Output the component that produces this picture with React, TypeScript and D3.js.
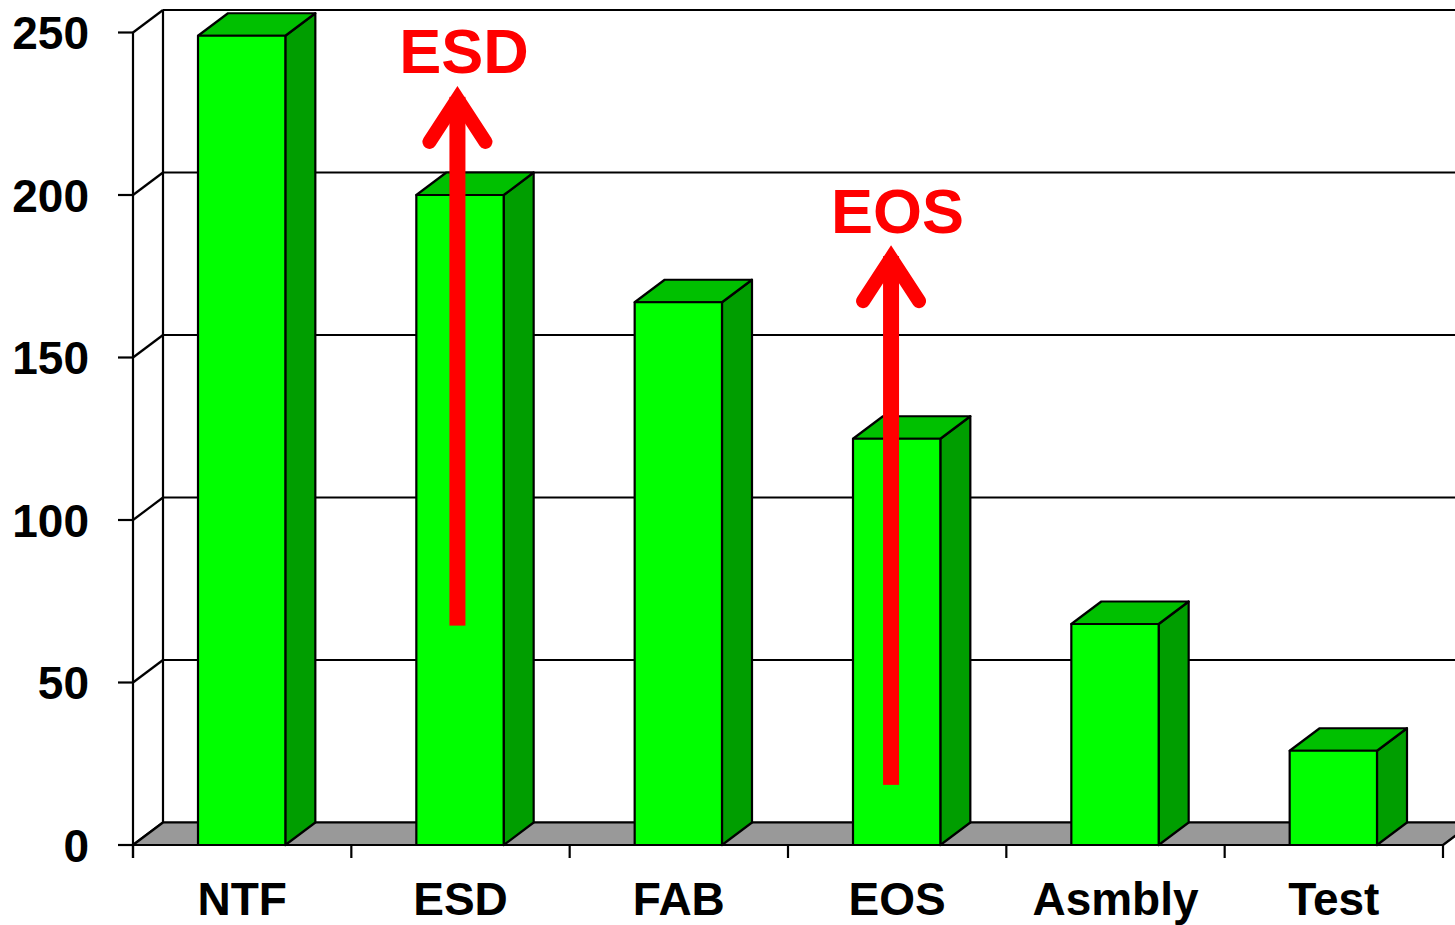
import React from "react";
import * as d3 from "d3";

// Failure counts by category
const categories = ["NTF", "ESD", "FAB", "EOS", "Asmbly", "Test"];
const counts = [249, 200, 167, 125, 68, 29];
const yTicks = [0, 50, 100, 150, 200, 250];

// Red arrow annotations (value range of each arrow along the y axis)
const arrowLabels = ["ESD", "EOS"];
const arrowCats = ["ESD", "EOS"];
const arrowFrom = [67.5, 18.5];
const arrowTo = [234.5, 185.5];

const W = 1455;
const H = 925;
const left = 133;
const right = 1443;
const bottom = 845;
const top = 32.5;
const DX = 30;
const DY = -22.5;
const FONT = "'Liberation Sans', Arial, Helvetica, sans-serif";

export default function App() {
  const x = d3.scaleBand<string>().domain(categories).range([left, right]).padding(0);
  const y = d3.scaleLinear().domain([0, 250]).range([bottom, top]);
  const bw = x.bandwidth();
  const barW = bw * 0.4;
  const arrowPos = [0.486, 0.472]; // fraction across the band

  const line = (pts: [number, number][]) => d3.line()(pts) + "Z";

  return (
    <div style={{ position: "fixed", left: 0, top: 0, width: W, height: H, background: "#fff" }}>
      <svg width={W} height={H} style={{ display: "block" }}>
        {/* left wall */}
        <path
          d={line([
            [left, y(250)],
            [left + DX, y(250) + DY],
            [left + DX, y(0) + DY],
            [left, y(0)],
          ])}
          fill="#fff"
          stroke="none"
        />
        {/* back wall grid lines */}
        {yTicks.map((t) => (
          <g key={"g" + t}>
            <line x1={left + DX} x2={W + 40} y1={y(t) + DY} y2={y(t) + DY} stroke="#000" strokeWidth={2.2} />
            <line x1={left} x2={left + DX} y1={y(t)} y2={y(t) + DY} stroke="#000" strokeWidth={2.2} />
          </g>
        ))}
        <line x1={left + DX} x2={left + DX} y1={y(250) + DY} y2={y(0) + DY} stroke="#000" strokeWidth={2.2} />
        {/* floor */}
        <path
          d={line([
            [left, y(0)],
            [left + DX, y(0) + DY],
            [right + DX, y(0) + DY],
            [right, y(0)],
          ])}
          fill="#999999"
          stroke="#000"
          strokeWidth={2.2}
          strokeLinejoin="round"
        />
        {/* y axis */}
        <line x1={left} x2={left} y1={y(250)} y2={bottom + 13} stroke="#000" strokeWidth={2.2} />
        {yTicks.map((t) => (
          <g key={"t" + t}>
            <line x1={left - 15} x2={left} y1={y(t)} y2={y(t)} stroke="#000" strokeWidth={2.2} />
            <text
              x={89}
              y={y(t)}
              dy="0.36em"
              textAnchor="end"
              fontFamily={FONT}
              fontWeight="bold"
              fontSize={46}
              fill="#000"
            >
              {t}
            </text>
          </g>
        ))}
        {/* x axis ticks */}
        {categories.concat([""]).map((c, i) => {
          const xx = left + i * bw;
          return <line key={"xt" + i} x1={xx} x2={xx} y1={bottom} y2={bottom + 13} stroke="#000" strokeWidth={2.2} />;
        })}
        {/* bars */}
        {categories.map((c, i) => {
          const x0 = (x(c) as number) + bw * 0.3 - 0.5;
          const x1 = x0 + barW;
          const yt = y(counts[i]);
          const yb = y(0);
          return (
            <g key={c} stroke="#000" strokeWidth={2.2} strokeLinejoin="round">
              <path
                d={line([
                  [x1, yt],
                  [x1 + DX, yt + DY],
                  [x1 + DX, yb + DY],
                  [x1, yb],
                ])}
                fill="#009E00"
              />
              <path
                d={line([
                  [x0, yt],
                  [x0 + DX, yt + DY],
                  [x1 + DX, yt + DY],
                  [x1, yt],
                ])}
                fill="#00C000"
              />
              <rect x={x0} y={yt} width={barW} height={yb - yt} fill="#00FF00" />
            </g>
          );
        })}
        {/* category labels */}
        {categories.map((c) => (
          <text
            key={"l" + c}
            x={(x(c) as number) + bw / 2}
            y={915}
            textAnchor="middle"
            fontFamily={FONT}
            fontWeight="bold"
            fontSize={46}
            fill="#000"
          >
            {c}
          </text>
        ))}
        {/* arrows */}
        {arrowCats.map((c, i) => {
          const ax = (x(c) as number) + bw * arrowPos[i];
          const y0 = y(arrowFrom[i]);
          const y1 = y(arrowTo[i]);
          return (
            <g key={"a" + c}>
              <rect x={ax - 8} y={y1 + 14} width={16} height={y0 - y1 - 14} fill="#FF0000" />
              <path
                d={`M${ax - 28},${y1 + 59}L${ax},${y1 + 16}L${ax + 28},${y1 + 59}`}
                fill="none"
                stroke="#FF0000"
                strokeWidth={14}
                strokeLinecap="round"
                strokeLinejoin="miter"
              />
              <text
                x={ax + 6.5}
                y={y1 - 9.5}
                textAnchor="middle"
                fontFamily={FONT}
                fontWeight="bold"
                fontSize={63}
                fill="#FF0000"
              >
                {arrowLabels[i]}
              </text>
            </g>
          );
        })}
      </svg>
    </div>
  );
}
